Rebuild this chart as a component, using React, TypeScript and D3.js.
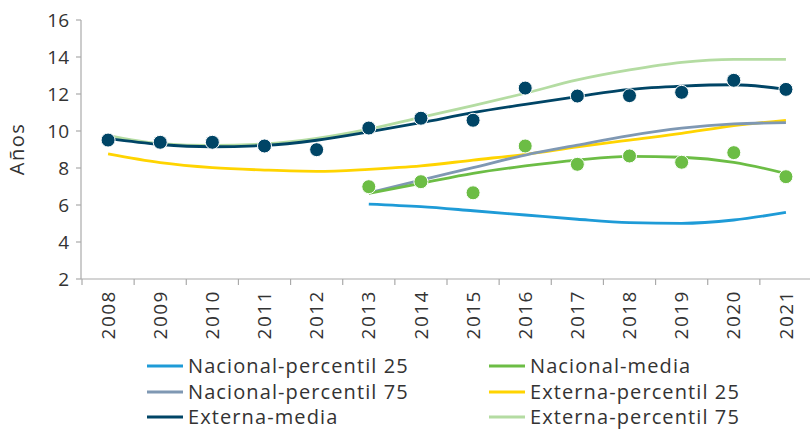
import React from "react";
import * as d3 from "d3";

const years = ["2008","2009","2010","2011","2012","2013","2014","2015","2016","2017","2018","2019","2020","2021"];
const yTicks = [2, 4, 6, 8, 10, 12, 14, 16];

// smoothed trend lines (null = no data)
const nacP25 = [null,null,null,null,null,6.05,5.91,5.69,5.46,5.23,5.05,5.01,5.19,5.6];
const nacMedia = [null,null,null,null,null,6.63,7.17,7.71,8.11,8.43,8.63,8.58,8.31,7.7];
const nacP75 = [null,null,null,null,null,6.66,7.35,8.02,8.7,9.24,9.75,10.15,10.38,10.45];
const extP25 = [8.76,8.29,8.02,7.89,7.82,7.93,8.11,8.43,8.74,9.14,9.51,9.87,10.29,10.58];
const extMedia = [9.6,9.27,9.15,9.22,9.5,9.95,10.45,10.99,11.44,11.86,12.25,12.43,12.5,12.25];
const extP75 = [9.75,9.32,9.22,9.3,9.6,10.1,10.74,11.37,12.04,12.76,13.3,13.71,13.87,13.87];

// observed points
const nacMediaDots = [null,null,null,null,null,6.99,7.26,6.66,9.19,8.2,8.65,8.31,8.83,7.53];
const extMediaDots = [9.51,9.39,9.39,9.19,8.99,10.16,10.69,10.58,12.32,11.89,11.91,12.09,12.74,12.25];

const series = [
  { name: "Nacional-percentil 25", values: nacP25, color: "#1e9bd7" },
  { name: "Nacional-media", values: nacMedia, color: "#6cbd45" },
  { name: "Nacional-percentil 75", values: nacP75, color: "#7f98b3" },
  { name: "Externa-percentil 25", values: extP25, color: "#ffd400" },
  { name: "Externa-media", values: extMedia, color: "#004566" },
  { name: "Externa-percentil 75", values: extP75, color: "#b4dca2" },
];

const drawOrder = [5, 3, 2, 1, 0, 4];

const FONT = "'Open Sans', sans-serif";
const TEXT = "#333";

export default function App() {
  const W = 810, H = 431;
  const x = d3.scaleBand<string>().domain(years).range([82, 812]);
  const y = d3.scaleLinear().domain([2, 16]).range([279, 20]);
  const cx = (i: number) => (x(years[i]) as number) + x.bandwidth() / 2;

  const line = d3
    .line<number | null>()
    .defined((d) => d !== null)
    .x((_, i) => cx(i))
    .y((d) => y(d as number))
    .curve(d3.curveMonotoneX);

  const legendCols = [147, 489];
  const legendRows = [366, 392, 417];

  return (
    <svg width={W} height={H} style={{ position: "absolute", left: 0, top: 0, background: "#fff" }}>
      {/* y axis */}
      <line x1={81} x2={81} y1={y(16)} y2={279} stroke="#aaa" strokeWidth={1.2} />
      {yTicks.map((t) => (
        <g key={t}>
          <line x1={76} x2={81} y1={y(t)} y2={y(t)} stroke="#aaa" strokeWidth={1.2} />
          <text x={69} y={y(t)} dy="0.35em" textAnchor="end" fontFamily={FONT} fontSize={19} fill={TEXT}>
            {t}
          </text>
        </g>
      ))}
      <text
        transform={`translate(24,${149}) rotate(-90)`}
        textAnchor="middle"
        fontFamily={FONT}
        fontSize={20}
        letterSpacing={1.5}
        fill={TEXT}
      >
        Años
      </text>

      {/* x axis */}
      <line x1={81} x2={812} y1={279} y2={279} stroke="#aaa" strokeWidth={1.2} />
      {years.map((yr, i) => (
        <g key={yr}>
          <line x1={x(yr) as number} x2={x(yr) as number} y1={279} y2={285} stroke="#aaa" strokeWidth={1.2} />
          <text
            transform={`translate(${cx(i)},${290}) rotate(-90)`}
            textAnchor="end"
            dy="0.35em"
            fontFamily={FONT}
            fontSize={19}
            letterSpacing={1.5}
            fill={TEXT}
          >
            {yr}
          </text>
        </g>
      ))}

      {/* lines */}
      {drawOrder.map((k) => (
        <path
          key={series[k].name}
          d={line(series[k].values) || ""}
          fill="none"
          stroke={series[k].color}
          strokeWidth={2.8}
        />
      ))}

      {/* dots */}
      {nacMediaDots.map((v, i) =>
        v === null ? null : (
          <circle key={"n" + i} cx={cx(i)} cy={y(v)} r={7} fill="#6cbd45" stroke="#fff" strokeWidth={1} />
        )
      )}
      {extMediaDots.map((v, i) => (
        <circle key={"e" + i} cx={cx(i)} cy={y(v)} r={7} fill="#004566" stroke="#fff" strokeWidth={1} />
      ))}

      {/* legend */}
      {series.map((s, k) => {
        const col = k % 2;
        const row = Math.floor(k / 2);
        const lx = legendCols[col];
        const ly = legendRows[row];
        return (
          <g key={s.name}>
            <line x1={lx} x2={lx + 36} y1={ly} y2={ly} stroke={s.color} strokeWidth={3} />
            <text x={lx + 41} y={ly} dy="0.35em" fontFamily={FONT} fontSize={20} letterSpacing={1.1} fill={TEXT}>
              {s.name}
            </text>
          </g>
        );
      })}
    </svg>
  );
}
